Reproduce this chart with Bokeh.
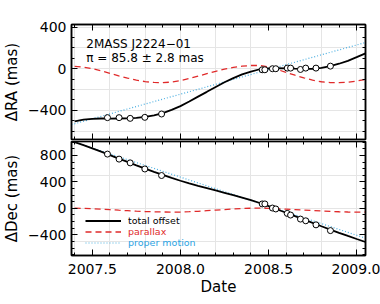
from bokeh.plotting import figure
from bokeh.models import (Range1d, SingleIntervalTicker, LinearAxis, CustomJSTickFormatter,
                          Label, Legend, LegendItem)
from bokeh.layouts import column
from bokeh.embed import file_html
from bokeh.resources import INLINE

# ---------------- data ----------------
curve_dates = [2007.40, 2007.45, 2007.50, 2007.55, 2007.60, 2007.65, 2007.70, 2007.75,
               2007.80, 2007.85, 2007.90, 2007.95, 2008.00, 2008.05, 2008.10, 2008.15,
               2008.20, 2008.25, 2008.30, 2008.35, 2008.40, 2008.45, 2008.50, 2008.55,
               2008.60, 2008.65, 2008.70, 2008.75, 2008.80, 2008.85, 2008.90, 2008.95,
               2009.00, 2009.05]

ra_total = [-505, -490, -481, -478, -479, -478, -477, -473, -463, -448, -426, -396,
            -359, -315, -268, -222, -175, -130, -90, -54, -27, -5, 4, 6, 4, 1,
            -1, 0, 9, 25, 48, 76, 111, 148]
ra_parallax = [23, 15, 0, -20, -45, -68, -90, -110, -124, -132, -134, -128, -114, -94,
               -71, -48, -25, -4, 13, 25, 31, 31, 18, -8, -35, -62, -88, -110, -125,
               -133, -134, -129, -118, -104]

dec_total = [1002, 955, 906, 856, 804, 752, 701, 650, 600, 552, 505, 460, 417, 378, 341,
             306, 270, 235, 199, 162, 123, 81, 33, -17, -66, -117, -168, -219, -270,
             -320, -369, -417, -463, -508]
dec_parallax = [3, 0, -5, -12, -20, -28, -35, -42, -48, -52, -55, -56, -55, -50, -44, -35,
                -27, -18, -10, -3, 2, 4, 0, -6, -12, -19, -26, -33, -40, -46, -51, -55,
                -57, -58]

pm_dates = [2007.382, 2009.050]
ra_pm = [-537, 252]
dec_pm = [1015, -450]

obs_dates = [2007.586, 2007.652, 2007.715, 2007.798, 2007.893,
             2008.464, 2008.479, 2008.522, 2008.541, 2008.606, 2008.625,
             2008.681, 2008.711, 2008.769, 2008.851]
obs_ra = [-470, -470, -477, -467, -435,
          -10, -10, 0, 0, 6, 6, -7, 6, 6, 25]
obs_dec = [820, 744, 687, 595, 496,
           67, 67, 5, -9, -76, -101, -162, -188, -249, -336]

x_ticks_interval = 0.5
y_ticks_interval = 400
title_lines = ["2MASS J2224\u221201", "\u03c0 = 85.8 \u00b1 2.8 mas"]
legend_labels = ["total offset", "parallax", "proper motion"]

# ---------------- styling ----------------
FONT = "DejaVu Sans"
RED = "#E02A2A"
BLUE = "#2BA3E3"
BLUE_LINE = "#4AAEE0"

xr = Range1d(2007.382, 2009.050)

num_fmt_x = CustomJSTickFormatter(code="return tick.toFixed(1);")
num_fmt_y = CustomJSTickFormatter(
    code="var v = Math.round(tick); return v < 0 ? '\u2212' + Math.abs(v) : '' + v;")
blank_fmt = CustomJSTickFormatter(code="return '';")


def style_axis(ax, labels=True):
    ax.axis_line_color = "black"
    ax.axis_line_width = 1.5
    ax.major_tick_in = 6
    ax.major_tick_out = 0
    ax.minor_tick_in = 3
    ax.minor_tick_out = 0
    ax.major_tick_line_color = "black"
    ax.minor_tick_line_color = "black"
    ax.major_tick_line_width = 1
    ax.minor_tick_line_width = 1
    ax.major_label_text_font = FONT
    ax.major_label_text_color = "black"
    ax.axis_label_text_font = FONT
    ax.axis_label_text_font_style = "normal"
    ax.axis_label_text_color = "black"
    if labels:
        ax.major_label_text_font_size = "14px"
    else:
        ax.major_label_text_font_size = "0px"
        ax.major_label_standoff = 0


def make_fig(height, yr, top, bottom, show_xlabels, ylabel):
    p = figure(width=380, height=height, x_range=xr, y_range=Range1d(*yr),
               output_backend="svg", toolbar_location=None,
               x_axis_location=None, y_axis_location=None,
               min_border_left=68, min_border_right=15,
               min_border_top=top, min_border_bottom=bottom)
    p.outline_line_color = "black"
    p.outline_line_width = 1.5
    p.background_fill_color = "white"
    p.border_fill_color = "white"

    xt = SingleIntervalTicker(interval=x_ticks_interval, num_minor_ticks=5)
    yt = SingleIntervalTicker(interval=y_ticks_interval, num_minor_ticks=4)

    left = LinearAxis(ticker=yt, formatter=num_fmt_y, axis_label=ylabel)
    style_axis(left)
    left.major_label_standoff = 5
    left.axis_label_standoff = 4
    left.axis_label_text_font_size = "15px"
    p.add_layout(left, "left")

    right = LinearAxis(ticker=yt, formatter=blank_fmt)
    style_axis(right, labels=False)
    p.add_layout(right, "right")

    above = LinearAxis(ticker=xt, formatter=blank_fmt)
    style_axis(above, labels=False)
    p.add_layout(above, "above")

    if show_xlabels:
        below = LinearAxis(ticker=xt, formatter=num_fmt_x, axis_label="Date")
        style_axis(below)
        below.major_label_standoff = 8
        below.axis_label_standoff = 1
        below.axis_label_text_font_size = "15px"
    else:
        below = LinearAxis(ticker=xt, formatter=blank_fmt)
        style_axis(below, labels=False)
    p.add_layout(below, "below")
    return p


# ---------------- top panel: RA ----------------
p1 = make_fig(140, (-680, 425), 24, 1, False, "\u0394RA (mas)")
p1.line(curve_dates, ra_parallax, line_color=RED, line_width=1.3, line_dash="6 4")
p1.line(pm_dates, ra_pm, line_color=BLUE_LINE, line_width=1.2, line_dash="1 2")
p1.line(curve_dates, ra_total, line_color="black", line_width=1.8)
p1.scatter(obs_dates, obs_ra, size=6, fill_color="white", line_color="black", line_width=1)

for i, t in enumerate(title_lines):
    p1.add_layout(Label(x=2007.466, y=[242, 107][i], text=t, text_font=FONT,
                        text_font_size="12px", text_baseline="middle", text_color="black"))

# ---------------- bottom panel: Dec ----------------
p2 = make_fig(164, (-712, 1010), 1, 49, True, "\u0394Dec (mas)")
r_par = p2.line(curve_dates, dec_parallax, line_color=RED, line_width=1.3, line_dash="6 4")
r_pm = p2.line(pm_dates, dec_pm, line_color=BLUE_LINE, line_width=1.2, line_dash="1 2")
r_tot = p2.line(curve_dates, dec_total, line_color="black", line_width=1.8)
p2.scatter(obs_dates, obs_dec, size=6, fill_color="white", line_color="black", line_width=1)

for lab, rend, col, ypos in zip(legend_labels, [r_tot, r_par, r_pm],
                                ["black", RED, BLUE], [29.5, 18.4, 7.3]):
    leg = Legend(items=[LegendItem(label=lab, renderers=[rend])],
                 location=(14, ypos), padding=0, margin=0, spacing=0,
                 glyph_width=36, glyph_height=9, label_height=9, label_standoff=7,
                 label_text_font=FONT, label_text_font_size="9.5px",
                 label_text_color=col, border_line_color=None,
                 background_fill_alpha=0)
    p2.add_layout(leg, "center")

layout = column(p1, p2, spacing=0)
open("out.html", "w").write(file_html(layout, INLINE))
